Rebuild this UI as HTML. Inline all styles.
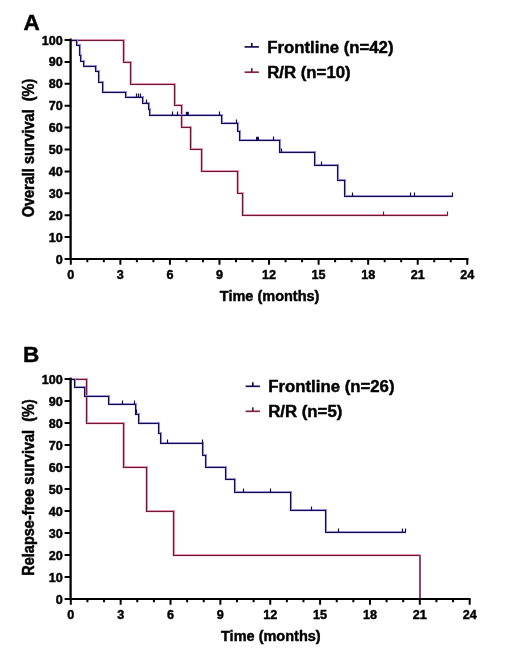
<!DOCTYPE html>
<html><head><meta charset="utf-8"><style>
html,body{margin:0;padding:0;background:#fff;}
svg{display:block;will-change:transform;}
text{font-family:"Liberation Sans", sans-serif;font-weight:bold;fill:#000;stroke:#000;stroke-width:0.45px;}
.tk{font-size:12.6px;}
.ttl{font-size:14.5px;}
.leg{font-size:16.8px;}
.let{font-size:22.5px;}
</style></head><body>
<svg width="520" height="664" viewBox="0 0 520 664">
<rect width="520" height="664" fill="#fff"/>
<text x="23.4" y="29.7" class="let">A</text>
<path d="M64.6,40.00 H70.8 M64.6,61.90 H70.8 M64.6,83.80 H70.8 M64.6,105.70 H70.8 M64.6,127.60 H70.8 M64.6,149.50 H70.8 M64.6,171.40 H70.8 M64.6,193.30 H70.8 M64.6,215.20 H70.8 M64.6,237.10 H70.8 M64.6,259.00 H70.8" stroke="#000" stroke-width="2" fill="none"/>
<text x="62.8" y="44.50" class="tk" text-anchor="end">100</text>
<text x="62.8" y="66.40" class="tk" text-anchor="end">90</text>
<text x="62.8" y="88.30" class="tk" text-anchor="end">80</text>
<text x="62.8" y="110.20" class="tk" text-anchor="end">70</text>
<text x="62.8" y="132.10" class="tk" text-anchor="end">60</text>
<text x="62.8" y="154.00" class="tk" text-anchor="end">50</text>
<text x="62.8" y="175.90" class="tk" text-anchor="end">40</text>
<text x="62.8" y="197.80" class="tk" text-anchor="end">30</text>
<text x="62.8" y="219.70" class="tk" text-anchor="end">20</text>
<text x="62.8" y="241.60" class="tk" text-anchor="end">10</text>
<text x="62.8" y="263.50" class="tk" text-anchor="end">0</text>
<path d="M70.80,259.0 V264.7 M87.32,259.0 V262.3 M103.84,259.0 V262.3 M120.36,259.0 V264.7 M136.88,259.0 V262.3 M153.40,259.0 V262.3 M169.92,259.0 V264.7 M186.44,259.0 V262.3 M202.96,259.0 V262.3 M219.48,259.0 V264.7 M236.00,259.0 V262.3 M252.52,259.0 V262.3 M269.04,259.0 V264.7 M285.56,259.0 V262.3 M302.08,259.0 V262.3 M318.60,259.0 V264.7 M335.12,259.0 V262.3 M351.64,259.0 V262.3 M368.16,259.0 V264.7 M384.68,259.0 V262.3 M401.20,259.0 V262.3 M417.72,259.0 V264.7 M434.24,259.0 V262.3 M450.76,259.0 V262.3 M467.28,259.0 V264.7" stroke="#000" stroke-width="2" fill="none"/>
<text x="70.80" y="279.0" class="tk" text-anchor="middle">0</text>
<text x="120.36" y="279.0" class="tk" text-anchor="middle">3</text>
<text x="169.92" y="279.0" class="tk" text-anchor="middle">6</text>
<text x="219.48" y="279.0" class="tk" text-anchor="middle">9</text>
<text x="269.04" y="279.0" class="tk" text-anchor="middle">12</text>
<text x="318.60" y="279.0" class="tk" text-anchor="middle">15</text>
<text x="368.16" y="279.0" class="tk" text-anchor="middle">18</text>
<text x="417.72" y="279.0" class="tk" text-anchor="middle">21</text>
<text x="467.28" y="279.0" class="tk" text-anchor="middle">24</text>
<text x="269.64" y="300.5" class="ttl" text-anchor="middle">Time (months)</text>
<text transform="translate(33.5,148.0) rotate(-90) scale(1,1.075)" class="ttl" text-anchor="middle" xml:space="preserve">Overall survival  (%)</text>
<path d="M70.8,40.5 H123.5 V62.5 H130.5 V84.5 H174.5 V105.5 H181.5 V127.5 H190.5 V149.5 H201.5 V171.5 H237.5 V193.5 H242.5 V215.5 H447.5" stroke="#e693ae" stroke-width="2.3" fill="none" transform="translate(0.3,-0.35)"/>
<path d="M70.8,40.5 H123.5 V62.5 H130.5 V84.5 H174.5 V105.5 H181.5 V127.5 H190.5 V149.5 H201.5 V171.5 H237.5 V193.5 H242.5 V215.5 H447.5" stroke="#6c1838" stroke-width="1.1" fill="none"/>
<path d="M70.8,40.5 H76.5 V45.5 H79.5 V55.5 H80.5 V61.5 H83.5 V66.5 H95.5 V71.5 H98.5 V82.5 H102.5 V92.5 H125.5 V97.5 H142.5 V103.5 H148.5 V109.5 H149.5 V115.5 H221.5 V123.5 H237.5 V131.5 H239.5 V140.5 H279.5 V152.5 H314.5 V165.5 H337.5 V180.5 H344.5 V196.5 H452.5" stroke="#9691d2" stroke-width="2.1" fill="none" transform="translate(0.5,-0.35)"/>
<path d="M70.8,40.5 H76.5 V45.5 H79.5 V55.5 H80.5 V61.5 H83.5 V66.5 H95.5 V71.5 H98.5 V82.5 H102.5 V92.5 H125.5 V97.5 H142.5 V103.5 H148.5 V109.5 H149.5 V115.5 H221.5 V123.5 H237.5 V131.5 H239.5 V140.5 H279.5 V152.5 H314.5 V165.5 H337.5 V180.5 H344.5 V196.5 H452.5" stroke="#140c50" stroke-width="1.1" fill="none"/>
<rect x="185.85" y="111.8" width="3.0" height="3.6" fill="#140c50"/>
<rect x="256.00" y="136.8" width="3.0" height="3.6" fill="#140c50"/>
<path d="M136.5,97.5 V93.5 M138.5,97.5 V93.5 M140.5,97.5 V93.5 M146.5,103.5 V99.5 M172.5,115.5 V111.5 M177.5,115.5 V111.5 M219.5,115.5 V111.5 M236.5,123.5 V119.5 M273.5,140.5 V136.5 M281.5,152.5 V148.5 M321.5,165.5 V161.5 M352.5,196.5 V192.5 M410.5,196.5 V192.5 M414.5,196.5 V192.5 M452.5,196.5 V192.5" stroke="#140c50" stroke-width="1.2" fill="none"/>
<path d="M383.5,215.5 V211.5 M447.5,215.5 V211.5" stroke="#6c1838" stroke-width="1.2" fill="none"/>
<path d="M70.6,38.5 V259.0" stroke="#000" stroke-width="2.3" fill="none"/>
<path d="M69.5,259.0 H468.5" stroke="#000" stroke-width="2" fill="none"/>
<path d="M244.6,46.9 H258.9" stroke="#18104f" stroke-width="1.7" fill="none"/>
<path d="M251.8,46.9 V42.9" stroke="#120c50" stroke-width="1.7" fill="none"/>
<path d="M244.6,72.2 H258.9" stroke="#86244e" stroke-width="1.7" fill="none"/>
<path d="M251.8,72.2 V68.2" stroke="#5a1e3c" stroke-width="1.7" fill="none"/>
<text x="267.2" y="52.699999999999996" class="leg">Frontline (n=42)</text>
<text x="267.2" y="77.8" class="leg">R/R (n=10)</text>
<text x="23.0" y="361.8" class="let">B</text>
<path d="M64.6,379.10 H70.8 M64.6,401.09 H70.8 M64.6,423.08 H70.8 M64.6,445.07 H70.8 M64.6,467.06 H70.8 M64.6,489.05 H70.8 M64.6,511.04 H70.8 M64.6,533.03 H70.8 M64.6,555.02 H70.8 M64.6,577.01 H70.8 M64.6,599.00 H70.8" stroke="#000" stroke-width="2" fill="none"/>
<text x="62.8" y="383.60" class="tk" text-anchor="end">100</text>
<text x="62.8" y="405.59" class="tk" text-anchor="end">90</text>
<text x="62.8" y="427.58" class="tk" text-anchor="end">80</text>
<text x="62.8" y="449.57" class="tk" text-anchor="end">70</text>
<text x="62.8" y="471.56" class="tk" text-anchor="end">60</text>
<text x="62.8" y="493.55" class="tk" text-anchor="end">50</text>
<text x="62.8" y="515.54" class="tk" text-anchor="end">40</text>
<text x="62.8" y="537.53" class="tk" text-anchor="end">30</text>
<text x="62.8" y="559.52" class="tk" text-anchor="end">20</text>
<text x="62.8" y="581.51" class="tk" text-anchor="end">10</text>
<text x="62.8" y="603.50" class="tk" text-anchor="end">0</text>
<path d="M70.80,599.0 V604.7 M87.42,599.0 V602.3 M104.04,599.0 V602.3 M120.66,599.0 V604.7 M137.28,599.0 V602.3 M153.90,599.0 V602.3 M170.52,599.0 V604.7 M187.14,599.0 V602.3 M203.76,599.0 V602.3 M220.38,599.0 V604.7 M237.00,599.0 V602.3 M253.62,599.0 V602.3 M270.24,599.0 V604.7 M286.86,599.0 V602.3 M303.48,599.0 V602.3 M320.10,599.0 V604.7 M336.72,599.0 V602.3 M353.34,599.0 V602.3 M369.96,599.0 V604.7 M386.58,599.0 V602.3 M403.20,599.0 V602.3 M419.82,599.0 V604.7 M436.44,599.0 V602.3 M453.06,599.0 V602.3 M469.68,599.0 V604.7" stroke="#000" stroke-width="2" fill="none"/>
<text x="70.80" y="619.0" class="tk" text-anchor="middle">0</text>
<text x="120.66" y="619.0" class="tk" text-anchor="middle">3</text>
<text x="170.52" y="619.0" class="tk" text-anchor="middle">6</text>
<text x="220.38" y="619.0" class="tk" text-anchor="middle">9</text>
<text x="270.24" y="619.0" class="tk" text-anchor="middle">12</text>
<text x="320.10" y="619.0" class="tk" text-anchor="middle">15</text>
<text x="369.96" y="619.0" class="tk" text-anchor="middle">18</text>
<text x="419.82" y="619.0" class="tk" text-anchor="middle">21</text>
<text x="469.68" y="619.0" class="tk" text-anchor="middle">24</text>
<text x="270.84" y="640.8" class="ttl" text-anchor="middle">Time (months)</text>
<text transform="translate(33.5,487.5) rotate(-90) scale(1,1.075)" class="ttl" text-anchor="middle" xml:space="preserve">Relapse-free survival  (%)</text>
<path d="M70.8,379.5 H86.5 V423.5 H123.5 V467.5 H146.5 V511.5 H173.5 V555.5 H419.5" stroke="#e693ae" stroke-width="2.3" fill="none" transform="translate(0.3,-0.35)"/>
<path d="M70.8,379.5 H86.5 V423.5 H123.5 V467.5 H146.5 V511.5 H173.5 V555.5 H419.5" stroke="#6c1838" stroke-width="1.1" fill="none"/>
<path d="M420.0,554.8 V599.0" stroke="#8c4b69" stroke-width="2" fill="none"/>
<path d="M70.8,379.5 H74.5 V387.5 H84.5 V396.5 H108.5 V404.5 H135.5 V414.5 H138.5 V423.5 H158.5 V433.5 H160.5 V443.5 H202.5 V455.5 H205.5 V467.5 H225.5 V479.5 H234.5 V492.5 H290.5 V510.5 H325.5 V532.5 H405.5" stroke="#9691d2" stroke-width="2.1" fill="none" transform="translate(0.5,-0.35)"/>
<path d="M70.8,379.5 H74.5 V387.5 H84.5 V396.5 H108.5 V404.5 H135.5 V414.5 H138.5 V423.5 H158.5 V433.5 H160.5 V443.5 H202.5 V455.5 H205.5 V467.5 H225.5 V479.5 H234.5 V492.5 H290.5 V510.5 H325.5 V532.5 H405.5" stroke="#140c50" stroke-width="1.1" fill="none"/>
<path d="M122.5,404.5 V400.5 M134.5,404.5 V400.5 M136.5,413.5 V409.5 M167.5,443.5 V439.5 M202.5,443.5 V439.5 M243.5,492.5 V488.5 M270.5,492.5 V488.5 M311.5,510.5 V506.5 M338.5,532.5 V528.5 M402.5,532.5 V528.5 M405.5,532.5 V528.5" stroke="#140c50" stroke-width="1.2" fill="none"/>
<path d="M70.6,377.6 V599.0" stroke="#000" stroke-width="2.3" fill="none"/>
<path d="M69.5,599.0 H470.6" stroke="#000" stroke-width="2" fill="none"/>
<path d="M245.6,386.3 H259.9" stroke="#18104f" stroke-width="1.7" fill="none"/>
<path d="M252.8,386.3 V382.3" stroke="#120c50" stroke-width="1.7" fill="none"/>
<path d="M245.6,411.3 H259.9" stroke="#86244e" stroke-width="1.7" fill="none"/>
<path d="M252.8,411.3 V407.3" stroke="#5a1e3c" stroke-width="1.7" fill="none"/>
<text x="268.2" y="392.1" class="leg">Frontline (n=26)</text>
<text x="268.2" y="416.90000000000003" class="leg">R/R (n=5)</text>
</svg>
</body></html>
